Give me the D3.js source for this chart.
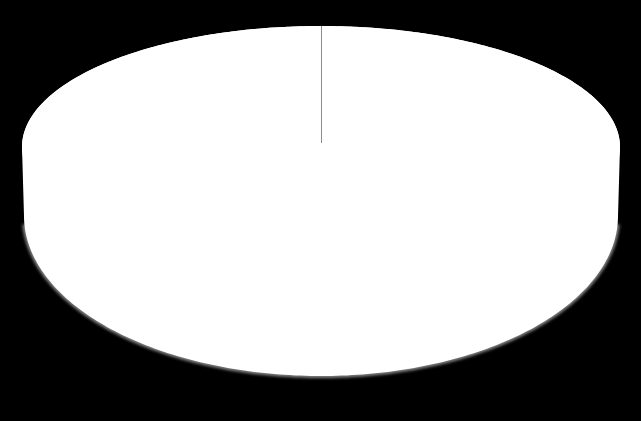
<!DOCTYPE html>
<html>
<head>
<meta charset="utf-8">
<script src="https://cdn.jsdelivr.net/npm/d3@7"></script>
<style>
  html, body { margin: 0; padding: 0; background: #000; }
  svg { display: block; }
</style>
</head>
<body>
<div id="chart"></div>
<script>
// data: one series, one slice that takes the whole pie
const categories = ["Series 1"];
const values = [100];
const sliceColors = ["#ffffff"];

const width = 641, height = 421;

// top face and bottom rim of the tilted pie (perspective makes the bottom rim taller)
const topFace = { cx: 321, cy: 147, rx: 299, ry: 121 };
const bottomRim = { cx: 321, cy: 216, rx: 297, ry: 160 };

function proj(e, a) {
    return [e.cx + e.rx * Math.sin(a), e.cy - e.ry * Math.cos(a)];
}

const piedata = d3.pie().sort(null).value(d => d)(values);
const line = d3.line();
const toRad = d3.scaleLinear().domain([0, 360]).range([0, 2 * Math.PI]);

const svg = d3.select("#chart")
    .append("svg")
        .attr("width", width)
        .attr("height", height)
        .style("background-color", "black");

const defs = svg.append("defs");
defs.append("filter")
    .attr("id", "soft")
    .attr("x", "-10%").attr("y", "-10%")
    .attr("width", "120%").attr("height", "120%")
    .append("feGaussianBlur")
        .attr("stdDeviation", 1.5);

// outline of the whole body: upper half of top face + lower half of bottom rim
const bodyPts = d3.range(-90, 91, 1).map(d => proj(topFace, toRad(d)))
    .concat(d3.range(90, 271, 1).map(d => proj(bottomRim, toRad(d))));

// soft grey edge along the lower rim only
const rimPts = d3.range(93, 268, 1).map(d => proj(bottomRim, toRad(d)));

svg.append("path")
    .attr("d", line(rimPts))
    .attr("fill", "none")
    .attr("stroke", "#8a8a8a")
    .attr("stroke-width", 4)
    .attr("filter", "url(#soft)");

// side wall, one per slice
svg.append("g")
    .selectAll("path")
    .data(piedata)
    .join("path")
        .attr("d", line(bodyPts) + "Z")
        .attr("fill", (d, i) => sliceColors[i]);

// top face of each slice
svg.append("g")
    .selectAll("path")
    .data(piedata)
    .join("path")
        .attr("d", d => {
            const pts = d3.range(d.startAngle, d.endAngle, 0.01).map(a => proj(topFace, a));
            pts.push(proj(topFace, d.endAngle));
            return line([[topFace.cx, topFace.cy]].concat(pts)) + "Z";
        })
        .attr("fill", (d, i) => sliceColors[i]);

// slice edge from the centre to the rim
svg.append("g")
    .selectAll("line")
    .data(piedata)
    .join("line")
        .attr("x1", topFace.cx)
        .attr("y1", topFace.cy - 4)
        .attr("x2", d => proj(topFace, d.startAngle)[0])
        .attr("y2", d => proj(topFace, d.startAngle)[1])
        .attr("stroke", "#8c8c8c")
        .attr("stroke-width", 1)
        .attr("shape-rendering", "crispEdges");
</script>
</body>
</html>
